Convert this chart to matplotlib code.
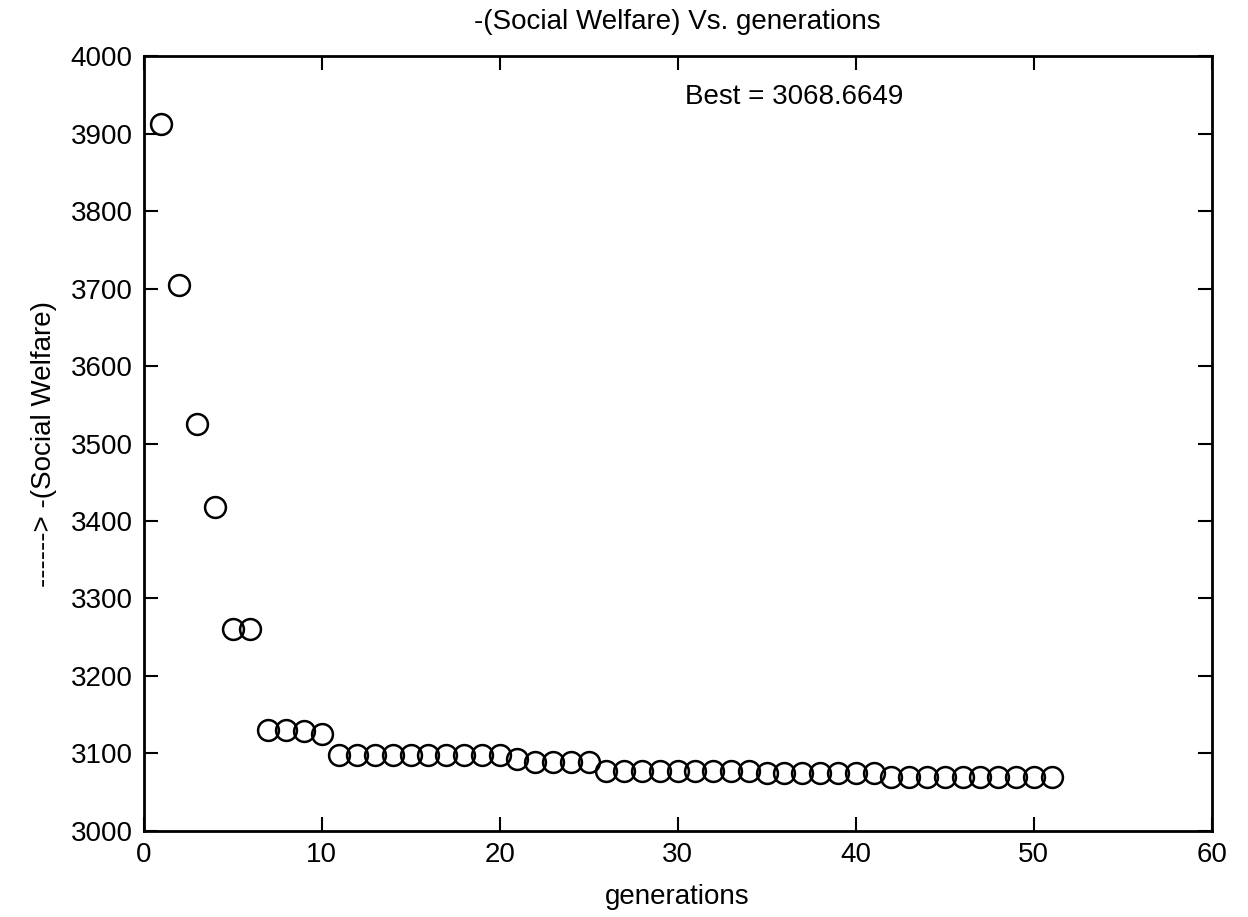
import numpy as np
import matplotlib
matplotlib.use('Agg')
import matplotlib.pyplot as plt

plt.rcParams['font.family'] = ['Liberation Sans', 'DejaVu Sans']

# ── Data ──────────────────────────────────────────────────────────────────────
generations = np.arange(1, 52)
welfare = ([3913, 3705, 3525, 3418, 3261, 3261, 3130, 3130, 3128, 3125]
           + [3097] * 10
           + [3092]
           + [3088] * 4
           + [3077] * 9
           + [3074] * 7
           + [3068.6649] * 10)
best_text = 'Best = 3068.6649'

# ── Figure ────────────────────────────────────────────────────────────────────
fig = plt.figure(figsize=(12.48, 9.17), dpi=100)
ax = fig.add_axes([0.115, 0.0943, 0.856, 0.8441])

ax.plot(generations, welfare, linestyle='none', marker='o', markersize=15,
        markerfacecolor='none', markeredgecolor='black', markeredgewidth=1.8)

ax.set_xlim(0, 60)
ax.set_ylim(3000, 4000)
ax.set_xticks(np.arange(0, 61, 10))
ax.set_yticks(np.arange(3000, 4001, 100))
ax.tick_params(direction='in', length=10, width=1.5, top=True, right=True,
               labelsize=20, pad=8)
for s in ax.spines.values():
    s.set_linewidth(2)

ax.text(30.4, 3948, best_text, fontsize=20, ha='left', va='center')
ax.set_title('-(Social Welfare) Vs. generations', fontsize=20, pad=20)
ax.set_xlabel('generations', fontsize=20, labelpad=12)
ax.set_ylabel('------> -(Social Welfare)', fontsize=20, labelpad=10)

fig.savefig('out.png', dpi=100)
